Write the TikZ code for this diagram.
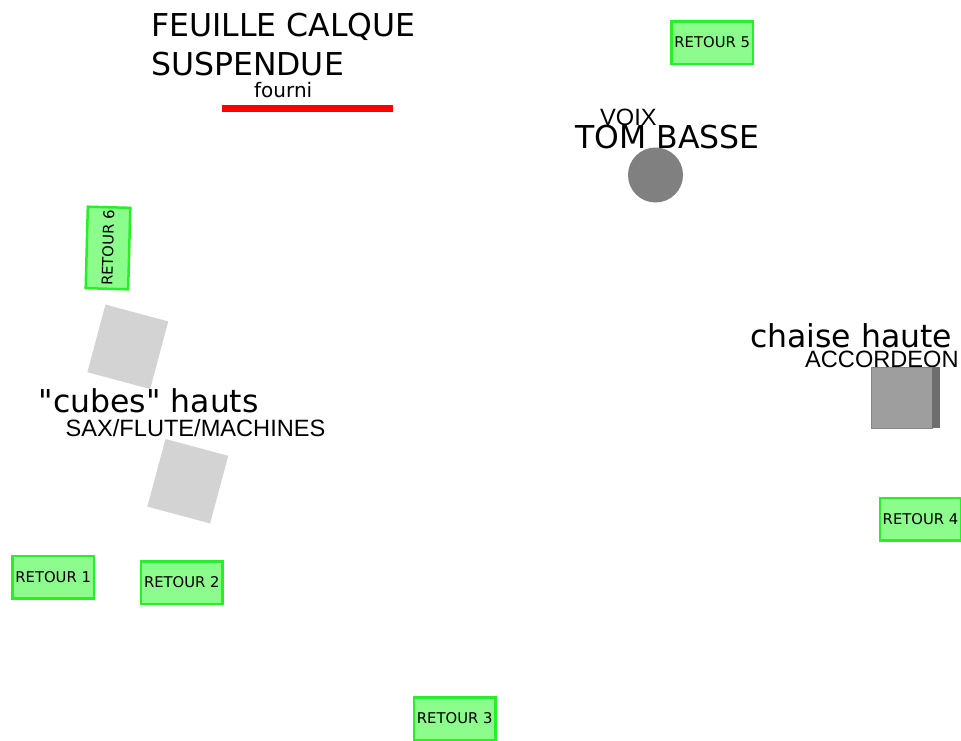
\documentclass[tikz,border=0pt]{standalone}
\usepackage{fontspec}
\setmainfont{DejaVu Sans}
\newfontfamily\plainfont{DejaVu Sans}
\newfontfamily\thinfont{Liberation Sans}
\definecolor{retourfill}{RGB}{140,252,140}
\definecolor{retourline}{RGB}{40,240,40}
\definecolor{cubegray}{RGB}{211,211,211}
\definecolor{chairgray}{RGB}{158,158,158}
\definecolor{chairdark}{RGB}{110,110,110}
\tikzset{
  retour/.style={draw=retourline, fill=retourfill, line width=2.5pt,
    minimum width=81.5pt, minimum height=42.5pt, inner sep=0pt,
    font=\fontsize{14.8}{17}\selectfont},
  big/.style={inner sep=0pt, font=\plainfont\fontsize{31.5}{39}\selectfont},
  thin/.style={inner sep=0pt, font=\thinfont\fontsize{23.6}{27}\selectfont},
  cube/.style={fill=cubegray, minimum width=65pt, minimum height=70pt,
    inner sep=0pt, rotate=-15}
}
\begin{document}
\begin{tikzpicture}[x=1pt,y=-1pt]
  \useasboundingbox (0,0) rectangle (961,740);

  % Feuille calque
  \node[big, anchor=north west, align=left] (calque) at (151,13)
    {FEUILLE CALQUE\\SUSPENDUE};
  \node[inner sep=0pt, anchor=base west, font=\fontsize{20}{24}\selectfont]
    (fourni) at (254,97.7) {fourni};
  \fill[red] (222,105) rectangle (393,112);

  % Tom basse
  \node[thin, anchor=base west] (voix) at (600,125) {VOIX};
  \node[big, anchor=base west] (tom) at (575,148) {TOM BASSE};
  \fill[gray] (655.5,175) circle (27.5);

  % Chaise haute
  \node[big, anchor=base west] (chaise) at (750,347) {chaise haute};
  \node[thin, anchor=base west] (accordeon) at (805,367) {ACCORDEON};
  \filldraw[fill=chairgray, draw=chairgray!85!black, line width=0.8pt]
    (871,367) rectangle (932,428);
  \fill[chairdark] (932,367) rectangle (940,428);

  % Cubes
  \node[cube] (cubeA) at (127.8,346.8) {};
  \node[cube] (cubeB) at (187.8,481.2) {};
  \node[big, anchor=base west] (cubes) at (38.5,412.7) {"cubes" hauts};
  \node[thin, anchor=base west] (sax) at (65.5,436.7) {SAX/FLUTE/MACHINES};

  % Retours
  \node[retour] (R1) at (53.2,577.2) {RETOUR 1};
  \node[retour] (R2) at (181.8,582.5) {RETOUR 2};
  \node[retour] (R3) at (454.7,718.5) {RETOUR 3};
  \node[retour] (R4) at (920.5,519.2) {RETOUR 4};
  \node[retour] (R5) at (712.2,42.5) {RETOUR 5};
  \node[retour, rotate=88.5] (R6) at (108,248) {RETOUR 6};
\end{tikzpicture}
\end{document}
